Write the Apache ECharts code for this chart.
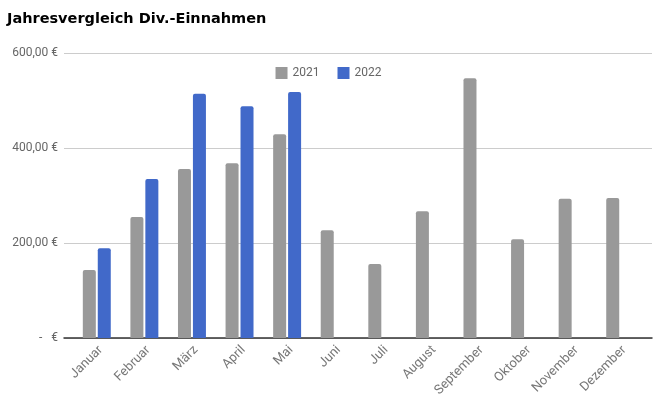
<!DOCTYPE html>
<html><head><meta charset="utf-8">
<script src="https://cdn.jsdelivr.net/npm/echarts@6/dist/echarts.min.js"></script>
<style>html,body{margin:0;padding:0;background:#fff}#c{width:657px;height:400px}</style>
</head><body><div id="c"></div>
<script>
const categories = ['Januar','Februar','März','April','Mai','Juni','Juli','August','September','Oktober','November','Dezember'];
const values2021 = [143, 255, 356, 368, 429, 227, 156, 267, 547, 208, 293, 295];
const values2022 = [189, 335, 514, 488, 518, null, null, null, null, null, null, null];
const yTicks = [0, 200, 400, 600];

const yFmt = v => v === 0 ? '-   €' : v.toFixed(2).replace('.', ',') + ' €';
const hiddenVal = gi => ({ gridIndex: gi, type: 'value', min: 0, max: 600, interval: 200,
  axisLine: { show: false }, axisTick: { show: false }, splitLine: { show: false }, axisLabel: { show: false } });
const chart = echarts.init(document.getElementById('c'));
chart.setOption({
  animation: false,
  title: { text: 'Jahresvergleich Div.-Einnahmen', left: 2, top: 7,
    textStyle: { fontFamily: 'DejaVu Sans', fontWeight: 'bold', fontSize: 14.5, color: '#000' } },
  legend: { top: 62, left: 'center', itemWidth: 12, itemHeight: 12, itemGap: 18,
    icon: 'rect',
    textStyle: { color: '#666', fontSize: 12, fontFamily: 'Roboto' },
    data: ['2021', '2022'] },
  grid: [
    { left: 64, right: 5, top: 53, bottom: 62 },
    { left: 73, right: 13, top: 53, bottom: 62 },
    { left: 77, right: 9, top: 53, bottom: 62 }
  ],
  xAxis: [
    { gridIndex: 0, type: 'value', min: 0, max: 1,
      axisLine: { show: true, onZero: false, lineStyle: { color: '#333', width: 1.5 } },
      axisTick: { show: false }, axisLabel: { show: false }, splitLine: { show: false } },
    { gridIndex: 1, type: 'category', data: categories,
      axisLine: { show: false }, axisTick: { show: false }, axisLabel: { show: false } },
    { gridIndex: 2, type: 'category', data: categories,
      axisLine: { show: false }, axisTick: { show: false },
      axisLabel: { rotate: 45, color: '#777', fontSize: 13, fontFamily: 'Roboto', interval: 0, margin: 10 } }
  ],
  yAxis: [
    { gridIndex: 0, type: 'value', min: 0, max: 600, interval: 200,
      axisLine: { show: false }, axisTick: { show: false },
      splitLine: { lineStyle: { color: '#ccc' } },
      axisLabel: { color: '#666', fontSize: 12, fontFamily: 'Roboto', margin: 6, formatter: yFmt } },
    hiddenVal(1),
    hiddenVal(2)
  ],
  series: [
    { name: '2021', type: 'bar', xAxisIndex: 1, yAxisIndex: 1, data: values2021, barWidth: 13, barGap: '15%',
      itemStyle: { color: '#999999', borderRadius: [2, 2, 0, 0] } },
    { name: '2022', type: 'bar', xAxisIndex: 1, yAxisIndex: 1, data: values2022, barWidth: 13,
      itemStyle: { color: '#4169c9', borderRadius: [2, 2, 0, 0] } }
  ]
});
</script></body></html>
